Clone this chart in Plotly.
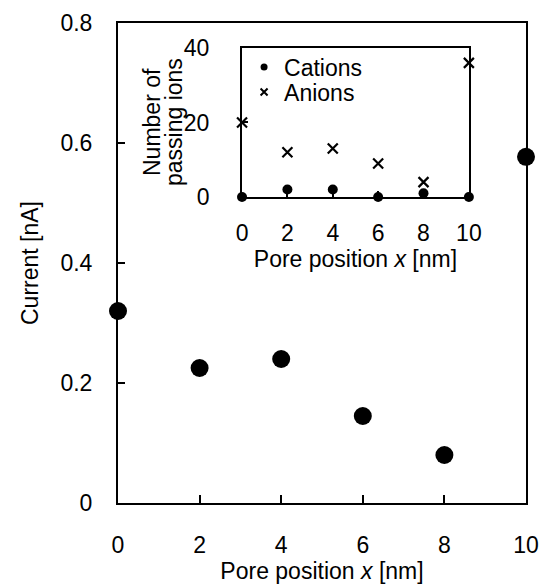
import plotly.graph_objects as go

# Pore position along the channel [nm]
positions = [0, 2, 4, 6, 8, 10]
# Ionic current at each pore position [nA]
current_nA = [0.32, 0.225, 0.24, 0.145, 0.08, 0.577]
# Passing ion counts at each pore position
cations = [0, 2, 2, 0, 1, 0]
anions = [20, 12, 13, 9, 4, 36]

FONT = "Liberation Sans, Arial, sans-serif"
INK = "black"
FS = 23

# Main plot area in pixels (used to place the inset axis title lines)
W, H = 543, 588
ML, MR, MT, MB = 118, 17, 23, 85
PW, PH = W - ML - MR, H - MT - MB

fig = go.Figure()

fig.add_trace(go.Scatter(
    x=positions, y=current_nA, mode="markers",
    marker=dict(color=INK, size=18, symbol="circle"),
    showlegend=False, cliponaxis=False,
))

cation_marker = dict(color=INK, symbol="circle")
anion_marker = dict(color=INK, symbol="x-thin")

fig.add_trace(go.Scatter(
    x=positions, y=cations, mode="markers", name="Cations",
    marker=dict(**cation_marker, size=10),
    xaxis="x2", yaxis="y2", cliponaxis=False, showlegend=False,
))
fig.add_trace(go.Scatter(
    x=positions, y=anions, mode="markers", name="Anions",
    marker=dict(**anion_marker, size=10, line=dict(color=INK, width=2.2)),
    xaxis="x2", yaxis="y2", cliponaxis=False, showlegend=False,
))

# Legend entries (smaller symbols than the plotted marks)
fig.add_trace(go.Scatter(
    x=[None], y=[None], mode="markers", name="Cations",
    marker=dict(**cation_marker, size=7),
    xaxis="x2", yaxis="y2", legend="legend",
))
fig.add_trace(go.Scatter(
    x=[None], y=[None], mode="markers", name="Anions",
    marker=dict(**anion_marker, size=7, line=dict(color=INK, width=2)),
    xaxis="x2", yaxis="y2", legend="legend2",
))

axis_common = dict(
    showgrid=False, zeroline=False, showline=True, linecolor=INK,
    linewidth=2, mirror=True, ticks="inside", tickcolor=INK,
    tickwidth=2, tickfont=dict(family=FONT, size=FS, color=INK),
    automargin=False,
)

legend_common = dict(
    x=0.309, xanchor="left", yanchor="middle",
    bgcolor="rgba(0,0,0,0)", font=dict(family=FONT, size=FS, color=INK),
    itemwidth=30,
)


def px_to_paper(px, py):
    return (px - ML) / PW, (H - MB - py) / PH


fig.update_layout(
    width=W, height=H,
    margin=dict(l=ML, r=MR, t=MT, b=MB),
    paper_bgcolor="white", plot_bgcolor="white",
    font=dict(family=FONT, size=FS, color=INK),
    xaxis=dict(
        **axis_common, range=[0, 10], tickvals=[0, 2, 4, 6, 8, 10],
        ticklen=8, ticklabelstandoff=20,
        title=dict(text="Pore position <i>x</i> [nm]", standoff=4,
                   font=dict(family=FONT, size=FS, color=INK)),
    ),
    yaxis=dict(
        **axis_common, range=[0, 0.8], tickvals=[0, 0.2, 0.4, 0.6, 0.8],
        ticktext=["0", "0.2", "0.4", "0.6", "0.8"],
        ticklen=7, ticklabelstandoff=19,
        title=dict(text="Current [nA]", standoff=15,
                   font=dict(family=FONT, size=FS, color=INK)),
    ),
    xaxis2=dict(
        **axis_common, domain=[0.304, 0.860], anchor="y2",
        range=[0, 10], tickvals=[0, 2, 4, 6, 8, 10],
        ticklen=6, ticklabelstandoff=14,
        title=dict(text="Pore position <i>x</i> [nm]", standoff=0,
                   font=dict(family=FONT, size=FS, color=INK)),
    ),
    yaxis2=dict(
        **axis_common, domain=[0.6375, 0.948], anchor="x2",
        range=[0, 40], tickvals=[0, 20, 40],
        ticklen=6, ticklabelstandoff=26,
    ),
    legend=dict(**legend_common, y=px_to_paper(0, 67)[1]),
    legend2=dict(**legend_common, y=px_to_paper(0, 92)[1]),
)

# Two-line inset y-axis title
for text, cx in (("Number of", 152), ("passing ions", 174)):
    ax, ay = px_to_paper(cx, 122)
    fig.add_annotation(
        text=text, x=ax, y=ay, xref="paper", yref="paper",
        xanchor="center", yanchor="middle", textangle=-90, showarrow=False,
        font=dict(family=FONT, size=FS, color=INK),
    )

fig.write_html("out.html")
